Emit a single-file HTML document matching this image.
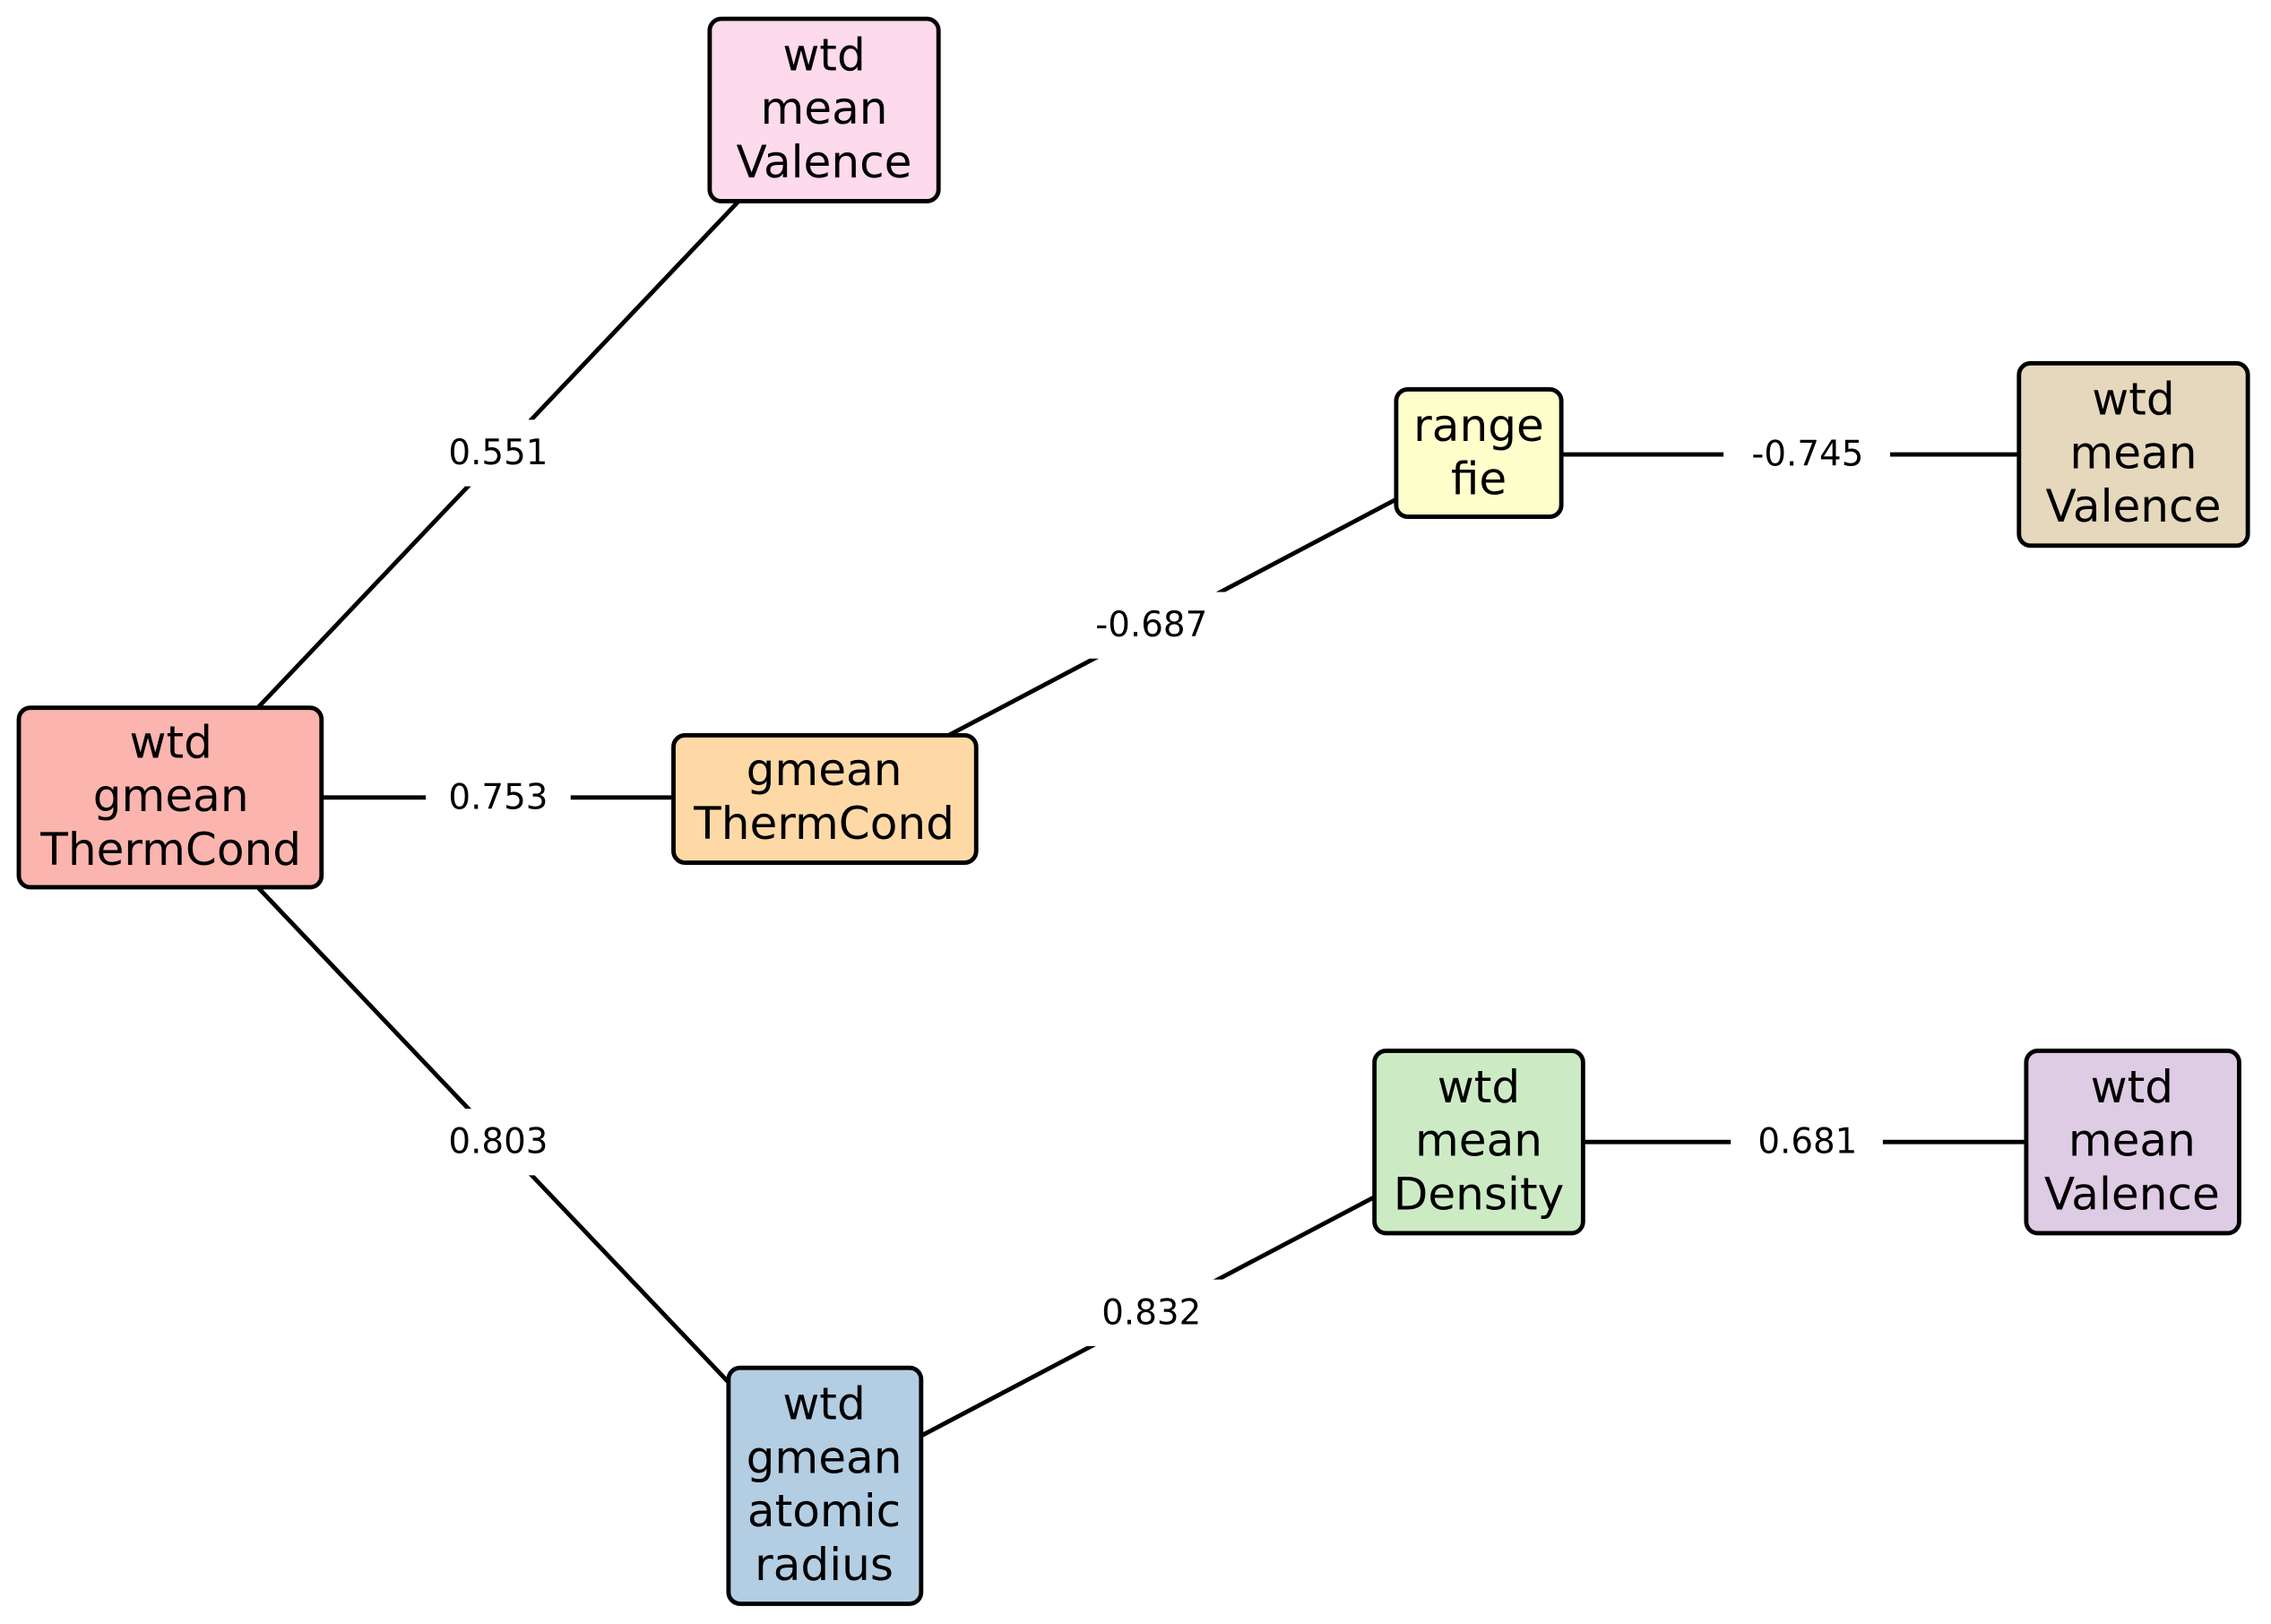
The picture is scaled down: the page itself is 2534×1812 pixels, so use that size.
<!DOCTYPE html>
<html><head><meta charset="utf-8"><style>html,body{margin:0;padding:0;background:#fff}svg{display:block}</style></head>
<body>
<svg width="2534" height="1812" viewBox="0 0 1568 1122" preserveAspectRatio="none" xmlns="http://www.w3.org/2000/svg" font-family="DejaVu Sans, Liberation Sans, sans-serif">
<g stroke="#000" stroke-width="3" fill="none">
<line x1="178" y1="489" x2="510" y2="139"/>
<line x1="222" y1="551" x2="465" y2="551"/>
<line x1="178" y1="613" x2="503" y2="955"/>
<line x1="655" y1="508" x2="964" y2="345"/>
<line x1="1078" y1="314" x2="1394" y2="314"/>
<line x1="636" y1="992" x2="949" y2="827"/>
<line x1="1093" y1="789" x2="1399" y2="789"/>
</g>
<g fill="#fff">
<rect x="294" y="290" width="100" height="46"/>
<rect x="294" y="528" width="100" height="46"/>
<rect x="294" y="766" width="100" height="46"/>
<rect x="740" y="409" width="110" height="46"/>
<rect x="1190" y="291" width="115" height="46"/>
<rect x="745" y="884" width="100" height="46"/>
<rect x="1195" y="766" width="105" height="46"/>
</g>
<g font-size="24" text-anchor="middle" dominant-baseline="central" fill="#000">
<text x="344" y="313">0.551</text>
<text x="344" y="551">0.753</text>
<text x="344" y="789">0.803</text>
<text x="795" y="432">-0.687</text>
<text x="1248" y="314">-0.745</text>
<text x="795" y="907">0.832</text>
<text x="1248" y="789">0.681</text>
</g>
<g stroke="#000" stroke-width="3">
<rect x="13" y="489" width="209" height="124" rx="8" fill="#fbb4ae"/>
<rect x="490" y="13" width="158" height="126" rx="8" fill="#fddaec"/>
<rect x="465" y="508" width="209" height="88" rx="8" fill="#fed9a6"/>
<rect x="503" y="945" width="133" height="163" rx="8" fill="#b3cde3"/>
<rect x="964" y="269" width="114" height="88" rx="8" fill="#ffffcc"/>
<rect x="1394" y="251" width="158" height="126" rx="8" fill="#e5d8bd"/>
<rect x="949" y="726" width="144" height="126" rx="8" fill="#ccebc5"/>
<rect x="1399" y="726" width="147" height="126" rx="8" fill="#decbe4"/>
</g>
<g font-size="31" text-anchor="middle" dominant-baseline="central" fill="#000">
<text x="118" y="513">wtd</text><text x="118" y="550">gmean</text><text x="118" y="587">ThermCond</text>
<text x="569" y="38">wtd</text><text x="569" y="75">mean</text><text x="569" y="112">Valence</text>
<text x="569" y="532">gmean</text><text x="569" y="569">ThermCond</text>
<text x="569" y="970">wtd</text><text x="569" y="1007">gmean</text><text x="569" y="1044">atomic</text><text x="569" y="1081">radius</text>
<text x="1021" y="294">range</text><text x="1021" y="331">fie</text>
<text x="1473" y="276">wtd</text><text x="1473" y="313">mean</text><text x="1473" y="350">Valence</text>
<text x="1021" y="751">wtd</text><text x="1021" y="788">mean</text><text x="1021" y="825">Density</text>
<text x="1472" y="751">wtd</text><text x="1472" y="788">mean</text><text x="1472" y="825">Valence</text>
</g>
</svg>
</body></html>
